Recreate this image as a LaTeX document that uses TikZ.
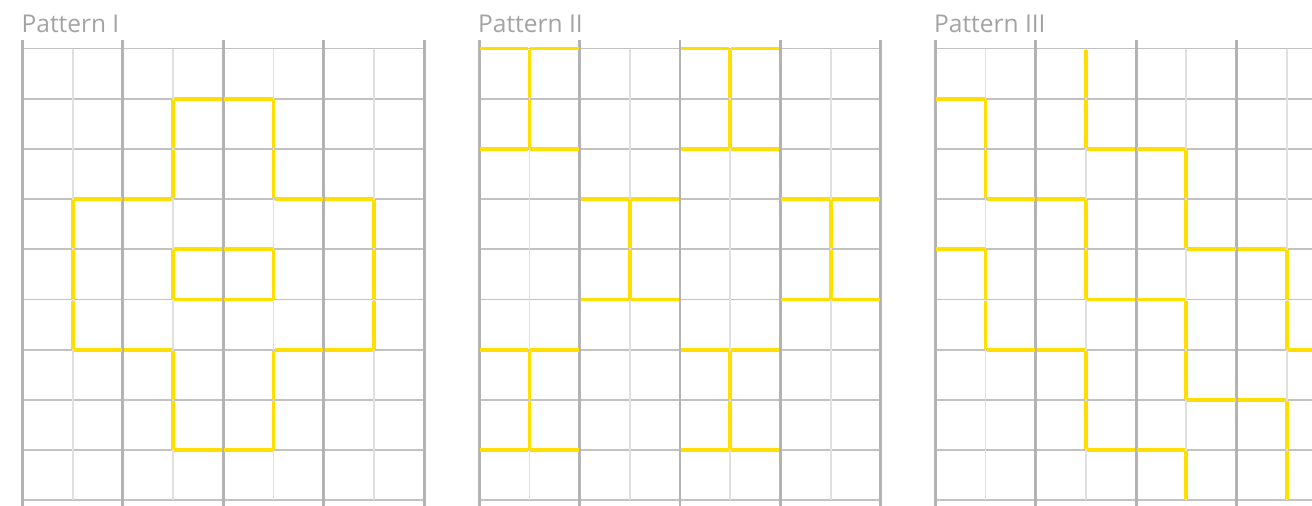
\documentclass[tikz,border=0pt]{standalone}
\usepackage{fontspec}
\setmainfont{Open Sans}
\definecolor{gthick}{HTML}{B3B3B3}
\definecolor{ghor}{HTML}{C2C2C2}
\definecolor{gthin}{HTML}{E0E0E0}
\definecolor{yel}{HTML}{FFDF00}
\definecolor{ttl}{HTML}{A3A3A3}
\tikzset{
  hline/.style={draw=ghor, line width=1.8pt},
  thinv/.style={draw=gthin, line width=1.8pt},
  thickv/.style={draw=gthick, line width=2.9pt},
  ylw/.style={draw=yel, line width=3.8pt, dash pattern=on 48.2pt off 2pt, dash phase=49.2pt},
  ttlnode/.style={anchor=base west, inner sep=0pt, text=ttl, font=\fontsize{24.5}{28}\selectfont}
}
\newcommand\gridpanel[1]{%
  \begin{scope}[xshift=#1pt, yshift=-48.5pt, x=50.2pt, y=-50.2pt]
    \foreach \j in {0,...,9} \draw[hline] (0,\j) -- (8,\j);
    \foreach \i in {1,3,5,7} \draw[thinv] (\i,0) -- (\i,9);
    \foreach \i in {0,2,4,6,8} \draw[thickv] (\i,-0.17) -- (\i,9.2);
  \end{scope}}
\begin{document}
\begin{tikzpicture}[x=1pt,y=-1pt]
\useasboundingbox (0,0) rectangle (1312,506);
\clip (0,0) rectangle (1312,506);
\fill[white] (0,0) rectangle (1312,506);
\gridpanel{22.5}
\gridpanel{479.2}
\gridpanel{935.3}
\node[ttlnode] (t1) at (21.5,32) {Pattern I};
\node[ttlnode] (t2) at (478,32) {Pattern II};
\node[ttlnode] (t3) at (934,32) {Pattern III};
% Pattern I
\begin{scope}[xshift=22.5pt, yshift=-48.5pt, x=50.2pt, y=-50.2pt]
  \draw[ylw] (3,1) -- (5,1) -- (5,3) -- (7,3) -- (7,6) -- (5,6) -- (5,8) -- (3,8) -- (3,6) -- (1,6) -- (1,3) -- (3,3) -- (3,1);
  \draw[ylw] (3,4) -- (5,4) -- (5,5) -- (3,5) -- (3,4);
\end{scope}
% Pattern II
\begin{scope}[xshift=479.2pt, yshift=-48.5pt, x=50.2pt, y=-50.2pt]
  \foreach \a/\b in {0/0, 4/0, 2/3, 6/3, 0/6, 4/6} {
    \draw[ylw] (\a,\b) -- ++(2,0);
    \draw[ylw] (\a+1,\b) -- ++(0,2);
    \draw[ylw] (\a,\b+2) -- ++(2,0);
  }
\end{scope}
% Pattern III
\begin{scope}[xshift=935.3pt, yshift=-48.5pt, x=50.2pt, y=-50.2pt]
  \draw[ylw] (0,1) -- (1,1) -- (1,3) -- (3,3) -- (3,5) -- (5,5) -- (5,7) -- (7,7) -- (7,9);
  \draw[ylw] (3,0) -- (3,2) -- (5,2) -- (5,4) -- (7,4) -- (7,6) -- (9,6);
  \draw[ylw] (0,4) -- (1,4) -- (1,6) -- (3,6) -- (3,8) -- (5,8) -- (5,9);
\end{scope}
\end{tikzpicture}
\end{document}
